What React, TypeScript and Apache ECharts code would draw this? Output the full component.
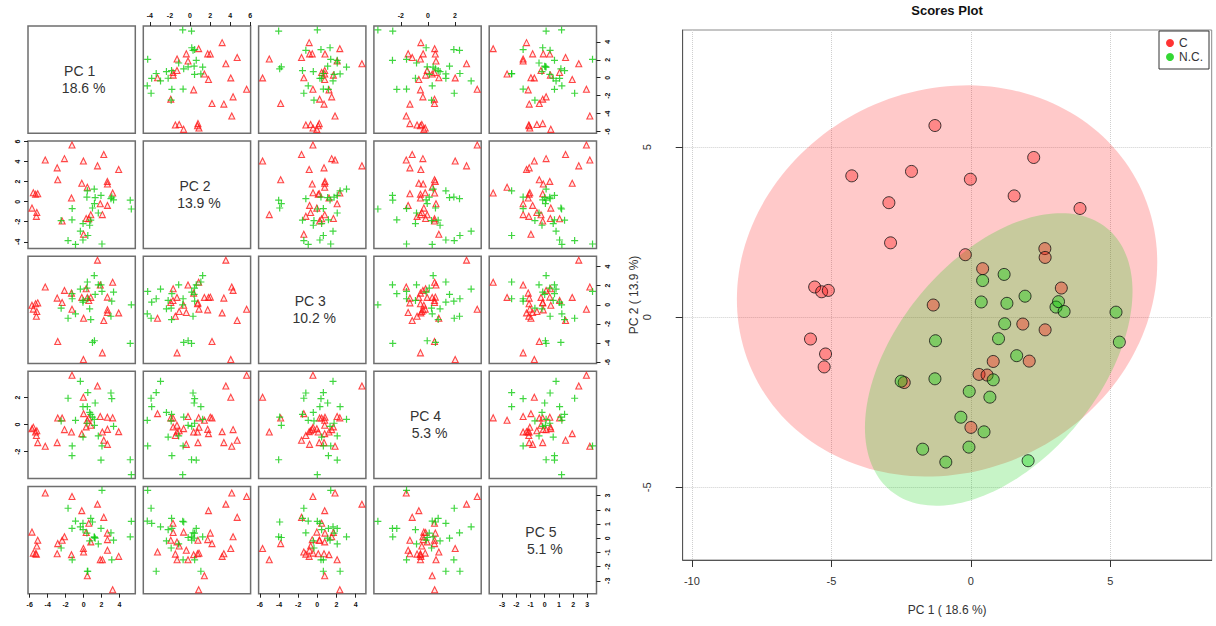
import React, { useEffect, useRef } from "react";
import * as echarts from "echarts";

// ---- data: group "C" (red) ----
const cPC1 = [-5.75, -5.6, -5.35, -5.26, -5.21, -5.11, -4.27, -2.94, -2.88, -2.39, -2.13, -1.35, -1.29, -0.2, -0.02, 0.0, 0.29, 0.42, 0.58, 0.8, 1.55, 1.86, 2.09, 2.25, 2.65, 2.66, 2.66, 3.24, 3.91];
const cPC2 = [-0.64, 0.89, 0.75, -1.46, -1.08, 0.79, 4.16, 3.37, 2.19, -1.92, 4.29, 0.36, 5.64, 1.84, 4.06, -3.24, -1.68, 1.43, -1.7, -1.3, 3.57, -0.2, -1.29, 4.7, 2.02, 1.76, -0.37, 0.86, 3.2];
const cPC3 = [-0.05, -0.45, 0.1, -1.2, -0.7, 0.2, 1.85, 0.7, -3.83, 0.24, 1.5, 1.22, -0.46, 0.77, -5.72, -1.41, 1.68, 0.77, 0.45, 0.77, 4.66, 2.07, -5.02, -1.65, 0.8, -0.53, -0.81, 2.35, -0.85];
const cPC4 = [-0.3, -0.2, -0.55, -0.8, -0.45, -1.33, -1.6, -1.33, 0.49, 0.49, -0.37, -0.55, 3.65, -0.67, 2.02, 0.81, -0.17, 0.32, 0.49, -0.05, 2.86, 0.6, -0.55, -1.16, 0.55, -0.35, -1.46, 0.5, -0.52];
const cPC5 = [0.43, -1.05, -1.1, -1.12, -0.55, -0.14, 3.18, -1.09, -0.38, -0.14, 0.1, -1.16, 2.94, 1.94, -0.73, -0.97, 0.4, -2.65, 1.05, -0.26, 2.4, -1.52, -1.52, 1.47, 0.36, -0.1, -0.85, -3.63, -1.28];

// ---- data: group "N.C." (green) ----
const nPC1 = [-2.5, -1.73, -1.29, -1.27, -0.9, -0.36, -0.07, -0.06, 0.37, 0.42, 0.47, 0.68, 0.8, 0.99, 1.19, 1.21, 1.29, 1.64, 1.94, 2.05, 3.05, 3.14, 3.34, 5.2, 5.32];
const nPC2 = [-1.88, -3.88, -1.81, -0.69, -4.26, -2.94, -3.82, -2.18, 0.45, 1.08, -3.37, -2.35, -1.84, -0.63, 1.26, -0.19, 0.41, -1.13, 0.62, -4.22, 0.3, 0.46, 0.17, 0.15, -0.73];
const nPC3 = [-0.35, -1.41, 1.16, 0.63, -0.95, 1.64, 0.27, 0.45, 1.75, 2.38, 0.63, -0.42, -1.55, -3.93, 3.05, -3.76, 1.08, 2.08, 2.08, 1.4, -1.2, 0.38, 1.33, -4.04, 0.0];
const nPC4 = [0.27, 1.95, -2.3, -1.58, 0.32, 3.2, 1.33, -0.92, 0.1, 1.33, 2.37, 0.9, 0.76, 0.56, 0.39, -0.05, 1.6, -0.84, -2.62, -1.58, 2.34, 1.92, -0.13, -2.6, -3.7];
const nPC5 = [-0.69, 2.11, 0.69, -1.52, 1.21, 0.8, 1.05, 0.6, 0.36, -2.33, -2.33, -0.19, 1.4, 1.14, 0.1, 0.05, 0.0, -0.4, 0.69, 3.37, 0.38, -1.52, -0.14, 0.1, 1.19];

const varNames = ["PC 1", "PC 2", "PC 3", "PC 4", "PC 5"];
const varPct = [18.6, 13.9, 10.2, 5.3, 5.1];
const groupNames = ["C", "N.C."];

// tick labels
const pairTicks = [
  [-6, -4, -2, 0, 2, 4],
  [-4, -2, 0, 2, 4, 6],
  [-6, -4, -2, 0, 2, 4],
  [-2, 0, 2],
  [-3, -2, -1, 0, 1, 2, 3],
];
const scoreXTicks = [-10, -5, 0, 5];
const scoreYTicks = [-5, 0, 5];

const FONT = "'Liberation Sans', Arial, Helvetica, sans-serif";

export default function App() {
  const ref = useRef<HTMLDivElement>(null);

  useEffect(() => {
    if (!ref.current) return;
    const chart = echarts.init(ref.current, null, { renderer: "svg" });

    const C = [cPC1, cPC2, cPC3, cPC4, cPC5];
    const N = [nPC1, nPC2, nPC3, nPC4, nPC5];

    // ranges as R pairs(): data range extended by 4%
    const rng = C.map((cv, v) => {
      const all = cv.concat(N[v]);
      const lo = Math.min(...all);
      const hi = Math.max(...all);
      const e = 0.04 * (hi - lo);
      return [lo - e, hi + e];
    });

    const PX0 = 28, PY0 = 26, STEPX = 115.3, STEPY = 115.1, PW = 107.3;

    const grids: any[] = [];
    const xAxes: any[] = [];
    const yAxes: any[] = [];
    const series: any[] = [];
    const graphics: any[] = [];

    const tickLabel = {
      fontSize: 7,
      fontWeight: "bold",
      color: "#111",
      fontFamily: FONT,
    };

    for (let i = 0; i < 5; i++) {
      for (let j = 0; j < 5; j++) {
        const k = i * 5 + j;
        grids.push({
          left: PX0 + j * STEPX,
          top: PY0 + i * STEPY,
          width: PW,
          height: PW,
          show: true,
          borderColor: "#6e6e6e",
          borderWidth: 1.5,
          backgroundColor: "#fff",
          containLabel: false,
          outerBoundsMode: "none",
        });
        const showTop = i === 0 && j % 2 === 1;
        const showBottom = i === 4 && j % 2 === 0;
        const showLeft = j === 0 && i % 2 === 1;
        const showRight = j === 4 && i % 2 === 0;
        const sx = showTop || showBottom;
        const sy = showLeft || showRight;
        xAxes.push({
          gridIndex: k,
          type: "value",
          min: rng[j][0],
          max: rng[j][1],
          position: showTop ? "top" : "bottom",
          axisLine: { show: false, onZero: false },
          axisTick: { show: sx, customValues: pairTicks[j], length: 4, lineStyle: { color: "#222", width: 1 } },
          axisLabel: { show: sx, customValues: pairTicks[j], margin: 7, ...tickLabel },
          splitLine: { show: false },
        });
        yAxes.push({
          gridIndex: k,
          type: "value",
          min: rng[i][0],
          max: rng[i][1],
          position: showRight ? "right" : "left",
          axisLine: { show: false, onZero: false },
          axisTick: { show: sy, customValues: pairTicks[i], length: 4, lineStyle: { color: "#222", width: 1 } },
          axisLabel: { show: sy, customValues: pairTicks[i], margin: 7, rotate: 90, ...tickLabel },
          splitLine: { show: false },
        });
        if (i !== j) {
          series.push({
            type: "scatter",
            name: "pairC",
            xAxisIndex: k,
            yAxisIndex: k,
            symbol: "triangle",
            symbolSize: 6,
            silent: true,
            itemStyle: { color: "rgba(255,0,0,0.12)", borderColor: "#ff1a1a", borderWidth: 1.1 },
            data: C[j].map((x, n) => [x, C[i][n]]),
          });
          series.push({
            type: "scatter",
            name: "pairN",
            xAxisIndex: k,
            yAxisIndex: k,
            symbol: "path://M5,0 L5,10 M0,5 L10,5",
            symbolSize: 7,
            silent: true,
            itemStyle: { color: "rgba(0,0,0,0)", borderColor: "#11cc11", borderWidth: 1.2 },
            data: N[j].map((x, n) => [x, N[i][n]]),
          });
        } else {
          const cx = PX0 + j * STEPX + PW / 2;
          const cy = PY0 + i * STEPY + PW / 2;
          graphics.push({
            type: "text",
            x: cx - 2,
            y: cy - 8.5,
            style: { text: varNames[i], fontSize: 14, fill: "#333", align: "center", verticalAlign: "middle", fontFamily: FONT },
          });
          graphics.push({
            type: "text",
            x: cx + 2,
            y: cy + 8.5,
            style: { text: varPct[i].toFixed(1) + " %", fontSize: 14, fill: "#333", align: "center", verticalAlign: "middle", fontFamily: FONT },
          });
        }
      }
    }

    // ---- Scores plot ----
    const SG = 25;
    grids.push({
      left: 682.7,
      top: 30,
      width: 529,
      height: 530,
      show: true,
      borderColor: "#8a8a8a",
      borderWidth: 1,
      containLabel: false,
      outerBoundsMode: "none",
    });
    xAxes.push({
      gridIndex: SG,
      type: "value",
      min: -10.33,
      max: 8.63,
      name: "PC 1 ( 18.6 %)",
      nameLocation: "middle",
      nameGap: 44,
      nameTextStyle: { fontSize: 12, color: "#333", fontFamily: FONT },
      axisLine: { show: true, onZero: false, lineStyle: { color: "#555", width: 1 } },
      axisTick: { show: true, customValues: scoreXTicks, length: 7, lineStyle: { color: "#333" } },
      axisLabel: { customValues: scoreXTicks, margin: 15, fontSize: 11, color: "#333", fontFamily: FONT },
      splitLine: { show: true, lineStyle: { color: "#cfcfcf", type: "dotted", width: 1 } },
    });
    yAxes.push({
      gridIndex: SG,
      type: "value",
      min: -7.14,
      max: 8.45,
      name: "PC 2 ( 13.9 %)",
      nameLocation: "middle",
      nameGap: 43,
      nameTextStyle: { fontSize: 12, color: "#333", fontFamily: FONT },
      axisLine: { show: true, onZero: false, lineStyle: { color: "#555", width: 1 } },
      axisTick: { show: true, customValues: scoreYTicks, length: 7, lineStyle: { color: "#333" } },
      axisLabel: { customValues: scoreYTicks, margin: 30, rotate: 90, fontSize: 11, color: "#333", fontFamily: FONT },
      splitLine: { show: true, lineStyle: { color: "#cfcfcf", type: "dotted", width: 1 } },
    });

    // 95% normal data ellipses from each group's PC1/PC2
    const ellipse = (xs: number[], ys: number[]) => {
      const n = xs.length;
      const mx = xs.reduce((a, b) => a + b, 0) / n;
      const my = ys.reduce((a, b) => a + b, 0) / n;
      let sxx = 0, syy = 0, sxy = 0;
      for (let t = 0; t < n; t++) {
        sxx += (xs[t] - mx) ** 2;
        syy += (ys[t] - my) ** 2;
        sxy += (xs[t] - mx) * (ys[t] - my);
      }
      sxx /= n - 1; syy /= n - 1; sxy /= n - 1;
      const l11 = Math.sqrt(sxx);
      const l21 = sxy / l11;
      const l22 = Math.sqrt(syy - l21 * l21);
      const r = Math.sqrt(5.991464547);
      const pts: number[][] = [];
      for (let a = 0; a < 360; a += 2) {
        const t = (a * Math.PI) / 180;
        pts.push([mx + r * l11 * Math.cos(t), my + r * (l21 * Math.cos(t) + l22 * Math.sin(t))]);
      }
      return pts;
    };
    const ellPts = [ellipse(cPC1, cPC2), ellipse(nPC1, nPC2)];
    const ellFill = ["rgba(255,0,0,0.21)", "rgba(0,205,0,0.22)"];

    series.push({
      type: "custom",
      name: "ellipses",
      xAxisIndex: SG,
      yAxisIndex: SG,
      silent: true,
      data: [[0, 0, 0], [0, 0, 1]],
      renderItem: (params: any, api: any) => {
        const g = api.value(2);
        const points = ellPts[g].map((p) => api.coord(p));
        return {
          type: "polygon",
          shape: { points },
          style: { fill: ellFill[g], stroke: "none" },
        };
      },
    });
    series.push({
      type: "scatter",
      name: groupNames[0],
      xAxisIndex: SG,
      yAxisIndex: SG,
      symbol: "circle",
      symbolSize: 12,
      silent: true,
      itemStyle: { color: "rgba(255,0,0,0.4)", borderColor: "#111", borderWidth: 1 },
      data: cPC1.map((x, n) => [x, cPC2[n]]),
    });
    series.push({
      type: "scatter",
      name: groupNames[1],
      xAxisIndex: SG,
      yAxisIndex: SG,
      symbol: "circle",
      symbolSize: 12,
      silent: true,
      itemStyle: { color: "rgba(0,205,0,0.45)", borderColor: "#111", borderWidth: 1 },
      data: nPC1.map((x, n) => [x, nPC2[n]]),
    });

    graphics.push({
      type: "text",
      x: 947,
      y: 10,
      style: { text: "Scores Plot", fontSize: 13, fontWeight: "bold", fill: "#111", align: "center", verticalAlign: "middle", fontFamily: FONT },
    });

    const option: any = {
      animation: false,
      backgroundColor: "#fff",
      textStyle: { fontFamily: FONT },
      grid: grids,
      xAxis: xAxes,
      yAxis: yAxes,
      legend: {
        data: [
          { name: groupNames[0], icon: "circle", itemStyle: { color: "#ff0000", borderWidth: 0 } },
          { name: groupNames[1], icon: "circle", itemStyle: { color: "#00cd00", borderWidth: 0 } },
        ],
        orient: "vertical",
        left: 1159,
        top: 31,
        itemWidth: 8,
        itemHeight: 8,
        itemGap: 2,
        padding: [6, 6, 6, 7],
        borderColor: "#333",
        borderWidth: 1,
        borderRadius: 0,
        backgroundColor: "#fff",
        selectedMode: false,
        textStyle: { fontSize: 12, color: "#333", fontFamily: FONT },
      },
      graphic: graphics,
      series,
    };

    chart.setOption(option);
    return () => chart.dispose();
  }, []);

  return (
    <div
      ref={ref}
      style={{ position: "fixed", left: 0, top: 0, width: 1216, height: 626, background: "#fff" }}
    />
  );
}
